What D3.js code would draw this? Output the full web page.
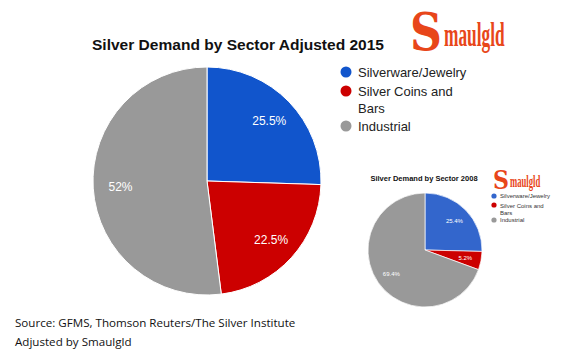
<!DOCTYPE html>
<html><head><meta charset="utf-8">
<script src="https://cdnjs.cloudflare.com/ajax/libs/d3/7.8.5/d3.min.js"></script>
<style>body{margin:0;background:#fff}svg{display:block}</style>
</head><body>
<svg id="c" width="564" height="354"></svg>
<script>
const categories = ["Silverware/Jewelry", "Silver Coins and Bars", "Industrial"];
const values2015 = [25.5, 22.5, 52];
const labels2015 = ["25.5%", "22.5%", "52%"];
const values2008 = [25.4, 5.2, 69.4];
const labels2008 = ["25.4%", "5.2%", "69.4%"];
const colors2015 = ["#1155cc", "#cc0000", "#999999"];
const colors2008 = ["#3366cc", "#cc0000", "#999999"];
const title2015 = "Silver Demand by Sector Adjusted 2015";
const title2008 = "Silver Demand by Sector 2008";
const sourceLines = ["Source: GFMS, Thomson Reuters/The Silver Institute", "Adjusted by Smaulgld"];

const svg = d3.select("#c");

function drawPie(cx, cy, r, vals, labels, colors, fontSize, strokeW, lf) {
  const pie = d3.pie().sort(null).value(d => d);
  const arcs = pie(vals);
  const arc = d3.arc().innerRadius(0).outerRadius(r);
  const labelArc = d3.arc().innerRadius(r * lf).outerRadius(r * lf);
  const g = svg.append("g").attr("transform", `translate(${cx},${cy})`);
  g.selectAll("path").data(arcs).join("path")
    .attr("d", arc).attr("fill", (d, i) => colors[i])
    .attr("stroke", "#fff").attr("stroke-width", strokeW);
  g.selectAll("text").data(arcs).join("text")
    .attr("transform", (d, i) => {
      const c = labelArc.centroid(d);
      return `translate(${c[0]},${c[1]})`;
    })
    .attr("text-anchor", "middle").attr("dy", "0.35em")
    .attr("fill", "#fff").attr("font-family", "Arial, 'Liberation Sans', sans-serif")
    .attr("font-size", fontSize)
    .text((d, i) => labels[i]);
  return g;
}

// main title
svg.append("text").attr("x", 92).attr("y", 50)
  .attr("font-family", "Arial, 'Liberation Sans', sans-serif").attr("font-weight", "bold")
  .attr("font-size", 15.5).attr("fill", "#111")
  .attr("textLength", 292).attr("lengthAdjust", "spacingAndGlyphs").text(title2015);

function logo(x, y, s) {
  svg.append("text").attr("transform", `translate(${x},${y}) scale(${0.85 * s},${s})`)
    .attr("font-family", "'DejaVu Serif', 'Liberation Serif', serif").attr("font-weight", "bold")
    .attr("font-size", 52).attr("fill", "#e8461a").text("S");
  svg.append("text").attr("transform", `translate(${x + 34 * s},${y - 4 * s}) scale(${0.51 * s},${s})`)
    .attr("font-family", "'Liberation Serif', serif").attr("font-weight", "bold")
    .attr("font-size", 34).attr("fill", "#e8461a").text("maulgld");
}
logo(410, 50, 1);

// main pie
drawPie(207, 181, 114, values2015, labels2015, colors2015, 12, 1, 0.76);

// main legend
const leg = svg.append("g");
const legY = [72, 91, 126];
categories.forEach((c, i) => {
  leg.append("circle").attr("cx", 346).attr("cy", legY[i]).attr("r", 5.5).attr("fill", colors2015[i]);
});
const ltxt = (t, y) => leg.append("text").attr("x", 358).attr("y", y)
  .attr("font-family", "Arial, 'Liberation Sans', sans-serif").attr("font-size", 13)
  .attr("fill", "#222").text(t);
ltxt(categories[0], 77);
ltxt("Silver Coins and", 96);
ltxt("Bars", 113);
ltxt(categories[2], 131);

// small chart
svg.append("text").attr("x", 424).attr("y", 181).attr("text-anchor", "middle")
  .attr("font-family", "Arial, 'Liberation Sans', sans-serif").attr("font-weight", "bold")
  .attr("font-size", 7.5).attr("fill", "#111").text(title2008);
logo(493, 189, 0.5);
drawPie(425, 250, 57, values2008, labels2008, colors2008, 6, 0.7, 0.72);
const sly = [196, 205, 220];
categories.forEach((c, i) => {
  svg.append("circle").attr("cx", 494).attr("cy", sly[i]).attr("r", 2.6).attr("fill", colors2008[i]);
});
const stxt = (t, y) => svg.append("text").attr("x", 500).attr("y", y)
  .attr("font-family", "Arial, 'Liberation Sans', sans-serif").attr("font-size", 6)
  .attr("fill", "#333").text(t);
stxt(categories[0], 198);
stxt("Silver Coins and", 207.5);
stxt("Bars", 215);
stxt(categories[2], 222);

// source
sourceLines.forEach((t, i) => {
  svg.append("text").attr("x", 15).attr("y", 327 + i * 19)
    .attr("font-family", "'Open Sans', 'Noto Sans', sans-serif").attr("font-size", 11.6)
    .attr("fill", "#111").text(t);
});
</script>
</body></html>
